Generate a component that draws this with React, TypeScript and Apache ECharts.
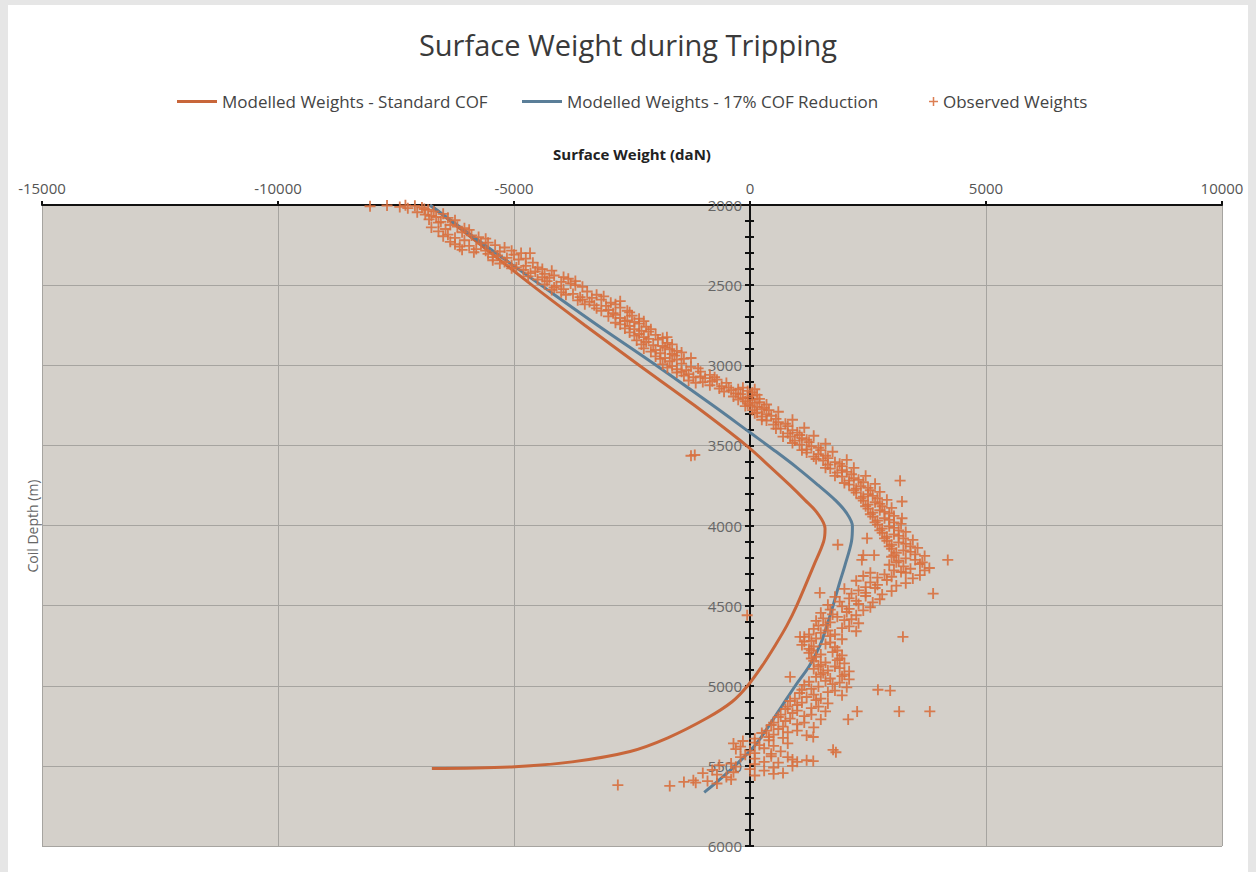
import React, { useEffect, useRef } from "react";
import * as echarts from "echarts";

// [surface weight (daN), coil depth (m)]
const standardCOF: [number, number][] = [
  [-6780, 2000], [-5700, 2250], [-4620, 2500], [-3500, 2750], [-2350, 3000],
  [-1180, 3250], [-80, 3500], [450, 3640], [850, 3750], [1160, 3840],
  [1420, 3920], [1590, 4020], [1560, 4100], [1350, 4250], [990, 4500],
  [780, 4625], [530, 4750], [260, 4875], [-50, 5000], [-380, 5100],
  [-900, 5200], [-1740, 5325], [-2540, 5410], [-3770, 5475], [-4980, 5505], [-6740, 5516],
];

const reducedCOF: [number, number][] = [
  [-6780, 2000], [-5620, 2250], [-4430, 2500], [-3230, 2750], [-1990, 3000],
  [-790, 3250], [0, 3420], [510, 3530], [1000, 3640], [1450, 3750],
  [1800, 3840], [2040, 3920], [2170, 4005], [2150, 4100], [2010, 4250],
  [1880, 4375], [1760, 4500], [1630, 4625], [1480, 4750], [1260, 4875],
  [960, 5000], [680, 5125], [400, 5250], [100, 5375], [-320, 5500],
  [-700, 5600], [-970, 5665],
];

const observedWeights: [number, number][] = [
  [-8050, 2008], [-7690, 2003], [-7420, 2012], [-7250, 2020], [-7100, 2005], [-6950, 2015], [-6820, 2030],
  [-7050, 2045], [-6700, 2040], [-6880, 2060], [-6500, 2055], [-6650, 2075], [-6400, 2080], [-6800, 2090],
  [-6250, 2095], [-6550, 2105],
  [-6750, 2140], [-6450, 2150], [-6200, 2135], [-5950, 2155], [-6600, 2165], [-6100, 2170],
  [-6500, 2195], [-6250, 2205], [-5900, 2190], [-5600, 2210], [-6050, 2220], [-6350, 2230],
  [-6250, 2245], [-5950, 2255], [-5700, 2240], [-5400, 2250], [-5200, 2265], [-5800, 2275], [-6100, 2280],
  [-5850, 2295], [-5550, 2305], [-5300, 2290], [-5000, 2310], [-4850, 2300], [-4660, 2300], [-5450, 2325], [-5150, 2330],
  [-5450, 2345], [-5200, 2355], [-4900, 2340], [-4600, 2360], [-5050, 2375], [-4750, 2380],
  [-5050, 2395], [-4800, 2405], [-4500, 2390], [-4200, 2410], [-4650, 2425], [-4350, 2430],
  [-4700, 2445], [-4400, 2450], [-4150, 2440], [-3850, 2460], [-4300, 2475], [-4000, 2480],
  [-4350, 2495], [-4100, 2505], [-3800, 2490], [-3550, 2510], [-3950, 2525], [-4200, 2530],
  [-4000, 2545], [-3750, 2555], [-3450, 2540], [-3250, 2560], [-3600, 2575], [-3350, 2580],
  [-3650, 2595], [-3400, 2605], [-3150, 2590], [-2950, 2610], [-3300, 2625], [-3050, 2630], [-2750, 2600],
  [-3250, 2645], [-3000, 2655], [-2750, 2640], [-2600, 2660], [-2900, 2675],
  [-3000, 2695], [-2750, 2705], [-2500, 2690], [-2350, 2710], [-2650, 2725], [-2450, 2730],
  [-2750, 2745], [-2550, 2755], [-2350, 2740], [-2200, 2760], [-2450, 2775],
  [-2550, 2795], [-2350, 2805], [-2150, 2790], [-2000, 2810], [-2250, 2825], [-1760, 2825],
  [-2400, 2845], [-2200, 2855], [-1950, 2840], [-1750, 2860], [-2050, 2875],
  [-2250, 2895], [-2000, 2905], [-1800, 2890], [-1550, 2910], [-1900, 2925], [-1650, 2930],
  [-2000, 2945], [-1800, 2955], [-1600, 2940], [-1400, 2960], [-1700, 2975],
  [-1850, 2995], [-1650, 3005], [-1450, 2990], [-1250, 3010], [-1550, 3025], [-1350, 3030],
  [-1550, 3045], [-1300, 3055], [-1050, 3040], [-850, 3060], [-1200, 3075], [-950, 3080],
  [-1300, 3095], [-1000, 3105], [-700, 3090], [-500, 3110], [-850, 3125], [-600, 3130],
  [-650, 3145], [-400, 3155], [-150, 3140], [-50, 3160], [-300, 3175], [50, 3170],
  [-350, 3195], [-150, 3205], [50, 3190], [200, 3210], [-100, 3225], [100, 3235], [0, 3250], [-200, 3180],
  [-100, 3255], [150, 3260], [350, 3245], [250, 3275], [50, 3280],
  [150, 3295], [350, 3305], [600, 3290], [450, 3315], [250, 3320],
  [350, 3345], [600, 3355], [900, 3340], [750, 3365], [500, 3370],
  [650, 3395], [900, 3405], [1150, 3390], [1000, 3420], [800, 3425],
  [850, 3445], [1100, 3455], [1350, 3440], [1200, 3465], [950, 3470],
  [1050, 3495], [1300, 3505], [1600, 3490], [1450, 3515], [1200, 3525],
  [1200, 3545], [1450, 3555], [1750, 3540], [1600, 3565], [1350, 3570], [-1170, 3560], [-1250, 3565],
  [1550, 3595], [1800, 3605], [2050, 3590], [1900, 3615], [1650, 3620],
  [1700, 3645], [1950, 3655], [2200, 3640], [2050, 3665], [1850, 3670],
  [1950, 3695], [2200, 3705], [2450, 3690], [2300, 3715], [2100, 3720], [3180, 3720],
  [2100, 3745], [2350, 3755], [2650, 3740], [2500, 3765], [2250, 3770],
  [2250, 3795], [2500, 3805], [2750, 3790], [2600, 3815], [2400, 3820],
  [2400, 3845], [2650, 3855], [2900, 3840], [2750, 3865], [2500, 3870], [3220, 3850],
  [2500, 3895], [2750, 3905], [3000, 3890], [2850, 3915], [2600, 3920],
  [2600, 3945], [2850, 3955], [3050, 3940], [2950, 3965], [2700, 3970], [3220, 3955],
  [2700, 3995], [2950, 4005], [3200, 3990], [3050, 4015], [2800, 4020],
  [2800, 4045], [3050, 4055], [3300, 4040], [3150, 4065], [2900, 4070], [2480, 4080],
  [2900, 4095], [3150, 4105], [3450, 4090], [3300, 4115], [3000, 4120], [1860, 4120],
  [3000, 4145], [3250, 4155], [3550, 4140], [3400, 4165], [3100, 4170], [2400, 4185], [2630, 4185],
  [3000, 4195], [3300, 4205], [3700, 4190], [3500, 4215], [3150, 4220], [4190, 4215], [2370, 4215],
  [2950, 4245], [3250, 4255], [3600, 4240], [3800, 4265], [3400, 4270], [3050, 4280],
  [2550, 4295], [2850, 4305], [3200, 4290], [3600, 4310], [3000, 4320], [2700, 4325],
  [2250, 4345], [2550, 4355], [2900, 4340], [3300, 4360], [2700, 4370],
  [2000, 4395], [2300, 4405], [2650, 4390], [3000, 4410], [2450, 4420], [3880, 4425], [1480, 4420],
  [1800, 4445], [2100, 4455], [2450, 4440], [2750, 4460], [2250, 4470],
  [1650, 4495], [1950, 4505], [2300, 4490], [2550, 4510], [2100, 4520],
  [1500, 4545], [1750, 4555], [2050, 4540], [2250, 4560], [1850, 4570], [-60, 4560],
  [1400, 4595], [1700, 4605], [2000, 4590], [2300, 4610], [1600, 4620],
  [1350, 4645], [1650, 4655], [1950, 4640], [2250, 4660], [1500, 4670], [1060, 4695], [3240, 4695],
  [1150, 4695], [1400, 4705], [1700, 4690], [1950, 4710], [1300, 4720],
  [1100, 4745], [1350, 4755], [1600, 4740], [1800, 4760], [1250, 4770],
  [1250, 4795], [1500, 4805], [1750, 4790], [1950, 4810], [1400, 4820],
  [1350, 4845], [1600, 4855], [1850, 4840], [2000, 4860], [1500, 4870],
  [1350, 4895], [1650, 4905], [1900, 4890], [2100, 4910], [1550, 4920],
  [1400, 4945], [1700, 4955], [1950, 4940], [2100, 4960], [1600, 4970], [850, 4945],
  [1150, 4995], [1450, 5005], [1750, 4990], [2050, 5010], [1300, 5020], [2970, 5030], [2710, 5025],
  [1050, 5045], [1350, 5055], [1650, 5040], [1950, 5060], [1200, 5070],
  [850, 5095], [1100, 5105], [1400, 5090], [1650, 5110], [1000, 5120],
  [750, 5145], [1000, 5155], [1300, 5140], [1600, 5160], [900, 5170], [3160, 5160], [3810, 5160], [2270, 5160],
  [600, 5195], [850, 5205], [1150, 5190], [1500, 5210], [750, 5220], [2080, 5210],
  [450, 5245], [700, 5255], [1000, 5240], [1350, 5260], [600, 5270],
  [250, 5295], [500, 5305], [800, 5290], [1200, 5310], [400, 5320], [1340, 5320],
  [-150, 5345], [100, 5355], [400, 5340], [800, 5360], [200, 5370], [-350, 5360],
  [-300, 5395], [0, 5405], [300, 5390], [650, 5410], [100, 5420], [1760, 5400], [1820, 5415],
  [-200, 5445], [100, 5455], [450, 5440], [900, 5460], [1200, 5465], [1340, 5470], [300, 5475],
  [-650, 5495], [-300, 5505], [100, 5490], [500, 5510], [900, 5500], [0, 5520],
  [-1000, 5545], [-700, 5555], [-350, 5540], [100, 5560], [500, 5550], [700, 5545],
  [-1400, 5600], [-1150, 5605], [-900, 5595], [-700, 5610], [-1700, 5625], [-2800, 5620],
  [-7300, 2002], [-6900, 2025], [-6750, 2068], [-6600, 2110], [-6350, 2125], [-6050, 2145], [-6400, 2185],
  [-5750, 2200], [-6150, 2260], [-5550, 2235], [-5600, 2285], [-5050, 2285], [-5350, 2315], [-4750, 2335],
  [-5300, 2365], [-4950, 2390], [-4400, 2400], [-4550, 2415], [-4250, 2455], [-3950, 2450], [-4500, 2465],
  [-3700, 2475], [-4150, 2515], [-3700, 2500], [-3900, 2560], [-3550, 2590], [-3100, 2570], [-3500, 2620],
  [-2850, 2620], [-3150, 2660], [-2850, 2685], [-2550, 2670], [-2600, 2720], [-2850, 2735], [-2250, 2725],
  [-2650, 2770], [-2300, 2785], [-2100, 2775], [-2450, 2815], [-2150, 2835], [-1850, 2830], [-2300, 2870],
  [-1850, 2880], [-1650, 2870], [-2100, 2915], [-1700, 2900], [-1450, 2920], [-1900, 2960], [-1550, 2965],
  [-1250, 2955], [-1750, 3015], [-1450, 3040], [-1100, 3020], [-1400, 3065], [-1050, 3070], [-750, 3075],
  [-1150, 3110], [-800, 3100], [-450, 3140], [-550, 3165], [-250, 3150], [100, 3150], [-50, 3200],
  [150, 3185], [-250, 3215], [50, 3215], [200, 3230], [-50, 3240], [300, 3265], [100, 3300], [400, 3280],
  [550, 3335], [250, 3340], [800, 3380], [550, 3395], [1050, 3435], [700, 3445], [1250, 3480], [900, 3485],
  [1500, 3530], [1100, 3530], [1650, 3580], [1400, 3585], [1950, 3630], [1600, 3640], [2150, 3680],
  [1800, 3690], [2400, 3730], [2000, 3735], [2550, 3780], [2200, 3780], [2700, 3830], [2350, 3830],
  [2800, 3880], [2450, 3880], [2950, 3925], [2550, 3930], [3050, 3980], [2650, 3980], [3150, 4030],
  [2750, 4030], [3250, 4080], [2850, 4080], [3400, 4130], [2950, 4130], [3500, 4180], [3050, 4185],
  [3650, 4230], [3100, 4230], [3700, 4280], [3300, 4295], [3450, 4330], [2400, 4315], [3100, 4375],
  [2450, 4385], [2800, 4430], [2150, 4425], [2600, 4480], [1900, 4475], [2400, 4530], [1700, 4525],
  [2150, 4585], [1550, 4580], [2100, 4630], [1450, 4625], [1800, 4680], [1250, 4680], [1700, 4730],
  [1150, 4725], [1850, 4780], [1300, 4780], [1900, 4830], [1300, 4830], [1800, 4880], [1450, 4880],
  [2000, 4930], [1500, 4930], [1900, 4980], [1250, 4975], [1800, 5030], [1100, 5025], [1500, 5080],
  [950, 5080], [1450, 5130], [800, 5130], [1300, 5180], [650, 5180], [1150, 5230], [500, 5230],
  [1000, 5280], [350, 5280], [700, 5325], [100, 5330], [500, 5375], [-200, 5380], [450, 5425],
  [-100, 5430], [600, 5480], [-400, 5485], [300, 5530], [-800, 5525], [-500, 5570], [-1200, 5590],
  [-400, 5585], [1000, 5475], [800, 5445],
];

const seriesNames = [
  "Modelled Weights - Standard COF",
  "Modelled Weights - 17% COF Reduction",
  "Observed Weights",
];

const X_MIN = -15000;
const X_MAX = 10000;
const PLUS = "path://M5,0H7V5H12V7H7V12H5V7H0V5H5Z";

export default function App() {
  const ref = useRef<HTMLDivElement>(null);
  useEffect(() => {
    if (!ref.current) return;
    const chart = echarts.init(ref.current, undefined, { renderer: "svg" });
    const axisColor = "#111";
    const gridColor = "#a6a4a0";
    const legendText = { fontSize: 17, color: "#444", fontFamily: "Open Sans" };
    const plain = (v: number) => String(v);
    const gridLeft = 34;
    const gridRight = 26;
    const gridWidth = 1240 - gridLeft - gridRight;
    const leftToZero = (gridWidth * (0 - X_MIN)) / (X_MAX - X_MIN);
    const rightToZero = gridWidth - leftToZero;
    const yBase = {
      type: "value",
      inverse: true,
      min: 2000,
      max: 6000,
      interval: 500,
    };
    chart.setOption({
      animation: false,
      backgroundColor: "#ffffff",
      textStyle: { fontFamily: "Open Sans" },
      title: {
        text: "Surface Weight during Tripping",
        left: "center",
        top: 20,
        textStyle: { fontSize: 29, fontWeight: "normal", color: "#3a3a3a", fontFamily: "Open Sans" },
      },
      legend: [
        { left: 164, top: 83, icon: "rect", itemWidth: 40, itemHeight: 3, itemGap: 10, textStyle: legendText, data: [seriesNames[0]] },
        { left: 509, top: 83, icon: "rect", itemWidth: 40, itemHeight: 3, itemGap: 10, textStyle: legendText, data: [seriesNames[1]] },
        { left: 916, top: 83, itemWidth: 9, itemHeight: 9, itemGap: 10, textStyle: legendText, data: [seriesNames[2]] },
      ],
      grid: {
        left: gridLeft,
        right: gridRight,
        top: 200,
        bottom: 26,
        show: true,
        backgroundColor: "#d4d0ca",
        borderWidth: 0,
        containLabel: false,
        outerBoundsMode: "none",
      },
      xAxis: {
        type: "value",
        position: "top",
        min: X_MIN,
        max: X_MAX,
        interval: 5000,
        name: "Surface Weight (daN)",
        nameLocation: "middle",
        nameGap: 44,
        nameTextStyle: { fontWeight: "bold", fontSize: 15, color: "#222", fontFamily: "Open Sans" },
        axisLine: { onZero: false, lineStyle: { color: axisColor, width: 2 } },
        axisTick: { show: true, length: 4, lineStyle: { color: axisColor, width: 2 } },
        axisLabel: { fontSize: 15, color: "#555", margin: 10, formatter: plain },
        splitLine: { show: true, lineStyle: { color: gridColor, width: 1 } },
      },
      yAxis: [
        {
          ...yBase,
          position: "left",
          offset: -leftToZero,
          axisLine: { show: true, onZero: false, lineStyle: { color: axisColor, width: 2 } },
          axisTick: { show: true, length: 5, lineStyle: { color: axisColor, width: 2 } },
          minorTick: { show: true, splitNumber: 5, length: 5, lineStyle: { color: axisColor, width: 2 } },
          axisLabel: { fontSize: 15, color: "#666", margin: 8, formatter: plain },
          splitLine: { show: true, lineStyle: { color: gridColor, width: 1 } },
        },
        {
          ...yBase,
          position: "right",
          offset: -rightToZero,
          axisLine: { show: true, onZero: false, lineStyle: { color: axisColor, width: 2 } },
          axisTick: { show: true, length: 4, lineStyle: { color: axisColor, width: 2 } },
          minorTick: { show: true, splitNumber: 5, length: 4, lineStyle: { color: axisColor, width: 2 } },
          axisLabel: { show: false },
          splitLine: { show: false },
        },
      ],
      graphic: [
        {
          type: "text",
          x: 24,
          y: 521,
          rotation: Math.PI / 2,
          style: {
            text: "Coil Depth (m)",
            fontSize: 14,
            fill: "#666",
            fontFamily: "Open Sans",
            align: "center",
            verticalAlign: "middle",
          },
        },
      ],
      series: [
        {
          name: seriesNames[0],
          type: "line",
          data: standardCOF,
          symbol: "none",
          smooth: 0.35,
          lineStyle: { color: "#c8663a", width: 3 },
          itemStyle: { color: "#c8663a" },
          z: 2,
        },
        {
          name: seriesNames[1],
          type: "line",
          data: reducedCOF,
          symbol: "none",
          smooth: 0.35,
          lineStyle: { color: "#5a7e98", width: 3 },
          itemStyle: { color: "#5a7e98" },
          z: 3,
        },
        {
          name: seriesNames[2],
          type: "scatter",
          data: observedWeights,
          symbol: PLUS,
          symbolSize: 11,
          itemStyle: { color: "#d8703f", opacity: 0.9 },
          z: 4,
        },
      ],
    });
    return () => chart.dispose();
  }, []);

  return (
    <div style={{ position: "absolute", left: 0, top: 0, width: 1256, height: 872, background: "#e6e6e6" }}>
      <div ref={ref} style={{ position: "absolute", left: 8, top: 5, width: 1240, height: 867, background: "#fff" }} />
    </div>
  );
}
